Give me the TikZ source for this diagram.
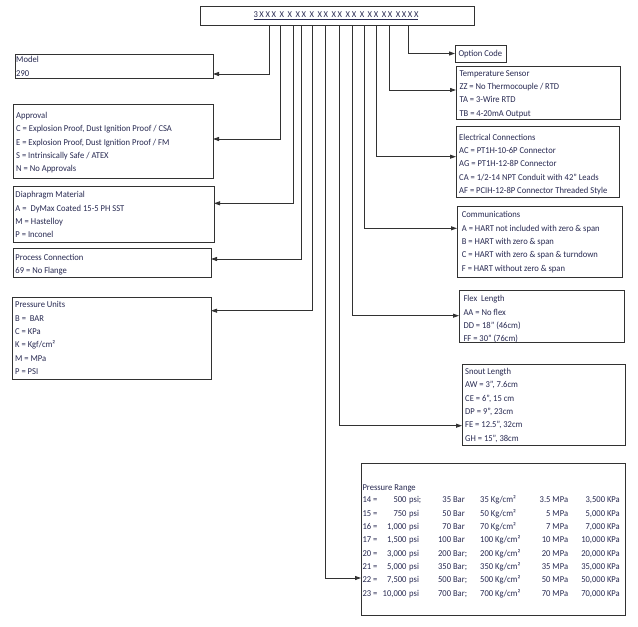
\documentclass[tikz,border=0pt]{standalone}
\usepackage{fontspec}
\setmainfont{Carlito}[FakeStretch=0.95]
\newfontfamily\topfont[LetterSpace=18,FakeStretch=0.95]{Carlito}
\usetikzlibrary{arrows.meta,calc}
\definecolor{tcol}{RGB}{40,42,82}
\definecolor{lcol}{RGB}{50,50,50}
\newcommand{\ftxt}{\fontsize{9}{13.3}\selectfont}
\tikzset{
  bx/.style={draw=lcol, line width=1pt, fill=white, inner sep=0pt, outer sep=0pt, anchor=north west},
  txt/.style={anchor=north west, inner sep=0pt, align=left, font=\ftxt, text=tcol},
  rtxt/.style={anchor=north east, inner sep=0pt, align=right, font=\ftxt, text=tcol},
  conn/.style={draw=lcol, line width=0.9pt, -{Triangle[length=6pt,width=4pt]}},
}
\begin{document}
\begin{tikzpicture}[x=1pt,y=-1pt]
\useasboundingbox (0,0) rectangle (638,627);
% boxes
\node[bx, minimum width=274pt, minimum height=19pt] (top) at (200,6) {};
\node[inner sep=0pt, font=\topfont\fontsize{9}{13.3}\selectfont, text=tcol] (toptxt) at (336,15.5) {\underline{3XXX X X XX X XX XX XX X XX XX XXXX}};
\node[bx, minimum width=198pt, minimum height=24pt] (model) at (15,54) {};
\node[bx, minimum width=200pt, minimum height=74pt] (approval) at (13,104) {};
\node[bx, minimum width=201pt, minimum height=56pt] (diaph) at (13,186) {};
\node[bx, minimum width=198pt, minimum height=29pt] (proc) at (13,248) {};
\node[bx, minimum width=199pt, minimum height=82pt] (punits) at (12,297) {};
\node[bx, minimum width=51pt, minimum height=17pt] (option) at (455,45) {};
\node[bx, minimum width=164pt, minimum height=53pt] (temp) at (456,66) {};
\node[bx, minimum width=163pt, minimum height=71pt] (elec) at (456,126) {};
\node[bx, minimum width=165pt, minimum height=71pt] (comm) at (457,206) {};
\node[bx, minimum width=165pt, minimum height=52pt] (flex) at (459,290) {};
\node[bx, minimum width=163pt, minimum height=81pt] (snout) at (462,364) {};
\node[bx, minimum width=264pt, minimum height=152pt] (prange) at (361,463) {};
% texts
\node[txt] (modelt) at (16,53.4) {\strut Model\\290};
\node[txt] (approvalt) at (16,109.1) {\strut Approval\\C = Explosion Proof, Dust Ignition Proof / CSA\\E = Explosion Proof, Dust Ignition Proof / FM\\S = Intrinsically Safe / ATEX\\N = No Approvals};
\node[txt] (diapht) at (15.3,188.4) {\strut Diaphragm Material\\A = \ DyMax Coated 15-5 PH SST\\M = Hastelloy\\P = Inconel};
\node[txt] (proct) at (15.3,250.7) {\strut Process Connection\\69 = No Flange};
\node[txt] (punitst) at (15,298.4) {\strut Pressure Units\\B = \ BAR\\C = KPa\\K = Kgf/cm²\\M = MPa\\P = PSI};
\node[txt] (optiont) at (458.3,47.4) {\strut Option Code};
\node[txt] (tempt) at (459.3,66.7) {\strut Temperature Sensor\\ZZ = No Thermocouple / RTD\\TA = 3-Wire RTD\\TB = 4-20mA Output};
\node[txt] (elect) at (459,130.7) {\strut Electrical Connections\\AC = PT1H-10-6P Connector\\AG = PT1H-12-8P Connector\\CA = 1/2-14 NPT Conduit with 42” Leads\\AF = PCIH-12-8P Connector Threaded Style};
\node[txt] (commt) at (461.7,208.4) {\strut Communications\\A = HART not included with zero \& span\\B = HART with zero \& span\\C = HART with zero \& span \& turndown\\F = HART without zero \& span};
\node[txt] (flext) at (463.3,292.4) {\strut Flex \ Length\\AA = No flex\\DD = 18” (46cm)\\FF = 30” (76cm)};
\node[txt] (snoutt) at (465,365.1) {\strut Snout Length\\AW = 3”, 7.6cm\\CE = 6”, 15 cm\\DP = 9”, 23cm\\FE = 12.5”, 32cm\\GH = 15”, 38cm};
\node[txt] (prt) at (362.3,480.7) {\strut Pressure Range};
\node[txt] (prc1) at (362.3,493.4) {\strut 14 =\\15 =\\16 =\\17 =\\20 =\\21 =\\22 =\\23 =};
\node[rtxt] (prc2) at (406.7,493.4) {\strut 500\\750\\1,000\\1,500\\3,000\\5,000\\7,500\\10,000};
\node[txt] (prc3) at (409,493.4) {\strut psi;\\psi\\psi\\psi\\psi\\psi\\psi\\psi};
\node[rtxt] (prc4) at (465,493.4) {\strut 35 Bar\\50 Bar\\70 Bar\\100 Bar\\200 Bar\rlap{;}\\350 Bar\rlap{;}\\500 Bar\rlap{;}\\700 Bar\rlap{;}};
\node[txt] (prc5) at (480,493.4) {\strut 35 Kg/cm²\\50 Kg/cm²\\70 Kg/cm²\\100 Kg/cm²\\200 Kg/cm²\\350 Kg/cm²\\500 Kg/cm²\\700 Kg/cm²};
\node[rtxt] (prc6) at (568.3,493.4) {\strut 3.5 MPa\\5 MPa\\7 MPa\\10 MPa\\20 MPa\\35 MPa\\50 MPa\\70 MPa};
\node[rtxt] (prc7) at (620,493.4) {\strut 3,500 KPa\\5,000 KPa\\7,000 KPa\\10,000 KPa\\20,000 KPa\\35,000 KPa\\50,000 KPa\\70,000 KPa};
% connectors
\draw[conn] ([xshift=69.3pt]top.south west) |- ([yshift=-8pt]model.east);
\draw[conn] ([xshift=80.5pt]top.south west) |- ([yshift=2pt]approval.east);
\draw[conn] ([xshift=93pt]top.south west) |- ([yshift=10.7pt]diaph.east);
\draw[conn] ([xshift=101pt]top.south west) |- ([yshift=3.5pt]proc.east);
\draw[conn] ([xshift=112.3pt]top.south west) |- ([yshift=27.3pt]punits.east);
\draw[conn] ([xshift=125pt]top.south west) |- ([yshift=-39pt]prange.west);
\draw[conn] ([xshift=139.3pt]top.south west) |- ([yshift=-21.2pt]snout.west);
\draw[conn] ([xshift=152.7pt]top.south west) |- ([yshift=0.3pt]flex.west);
\draw[conn] ([xshift=164pt]top.south west) |- ([yshift=13.2pt]comm.west);
\draw[conn] ([xshift=176.7pt]top.south west) |- ([yshift=4.8pt]elec.west);
\draw[conn] ([xshift=189pt]top.south west) |- ([yshift=2.5pt]temp.west);
\draw[conn] ([xshift=208pt]top.south west) |- ([yshift=0pt]option.west);
\end{tikzpicture}
\end{document}
